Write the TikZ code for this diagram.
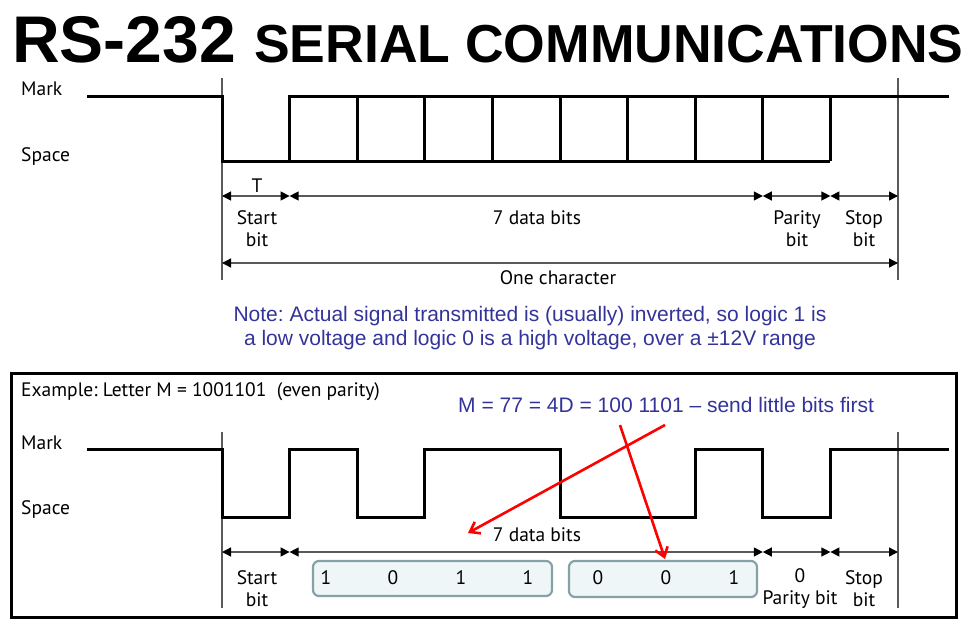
\documentclass[tikz,border=0pt]{standalone}
\usepackage{fontspec}
\setmainfont{PT Sans}
\newfontfamily\arial[Ligatures=TeX]{Liberation Sans}
\usetikzlibrary{arrows.meta}
\definecolor{notecol}{HTML}{333399}
\definecolor{bitfill}{HTML}{EEF6F8}
\definecolor{bitline}{HTML}{86A2A6}
\frenchspacing
\tikzset{
  wave/.style={line width=3pt},
  guide/.style={line width=1.3pt, black!65},
  dim/.style={guide, {Triangle[length=9pt,width=9pt,black]}-{Triangle[length=9pt,width=9pt,black]}},
  lbl/.style={font=\fontsize{19.5}{22}\selectfont, align=center, inner sep=0pt},
  note/.style={font=\arial\fontsize{21}{24}\selectfont, text=notecol, inner sep=0pt},
  bitbox/.style={draw=bitline, fill=bitfill, line width=2.2pt, rounded corners=6pt},
  pointer/.style={red, line width=2.6pt, -{Straight Barb[length=9pt,width=13pt]}}
}
\begin{document}
\begin{tikzpicture}[x=1pt,y=-1pt]
\useasboundingbox (0,0) rectangle (969,632);

\node[anchor=base west, inner sep=0pt, font=\arial\bfseries\fontsize{66}{66}\selectfont] (rs) at (12,62) {RS-232};
\node[anchor=base west, inner sep=0pt, font=\arial\bfseries\fontsize{53.5}{54}\selectfont] (serial) at (254,62) {SERIAL COMMUNICATIONS};

% upper timing diagram
\node[lbl, anchor=west] (mark1) at (21,89) {Mark};
\node[lbl, anchor=west] (space1) at (21,157) {Space};
\draw[guide] (222,78) -- (222,280);
\draw[guide] (898,78) -- (898,280);
\draw[wave] (87,96) -- (222,96) -- (222,161) -- (830.4,161);
\draw[wave] (289.6,161) -- (289.6,96) -- (949,96);
\foreach \i in {2,...,9}
  \draw[wave] ({222+67.6*\i},96) -- ({222+67.6*\i},161);

\foreach \i in {0,...,10} {
  \coordinate (u\i) at ({222+67.6*\i},196);
  \coordinate (l\i) at ({222+67.6*\i},552);
}
\coordinate (c0) at (222,263);
\coordinate (c10) at (898,263);
\draw[dim] (u0) -- (u1);
\draw[dim] (u1) -- (u8);
\draw[dim] (u8) -- (u9);
\draw[dim] (u9) -- (u10);
\draw[dim] (c0) -- (c10);

\node[lbl] (tlbl) at (257,186) {T};
\node[lbl] (start1) at (257,229) {Start\\bit};
\node[lbl] (data1) at (537,218) {7 data bits};
\node[lbl] (parity1) at (797,229) {Parity\\bit};
\node[lbl] (stop1) at (864,229) {Stop\\bit};
\node[lbl] (char1) at (558,278) {One character};

\node[note] (note1) at (530,316) {Note: Actual signal transmitted is (usually) inverted, so logic 1 is};
\node[note] (note2) at (530,340) {a low voltage and logic 0 is a high voltage, over a \textpm12V range};

% example frame
\draw[line width=3pt] (11,373) rectangle (956,617);
\node[lbl, anchor=west] (example) at (21,392) {Example: Letter M = 1001101 \ (even parity)};
\node[note, anchor=west] (mnote) at (458,405) {M = 77 = 4D = 100 1101 \textendash{} send little bits first};

\node[lbl, anchor=west] (mark2) at (21,443) {Mark};
\node[lbl, anchor=west] (space2) at (21,510) {Space};
\draw[guide] (222,432) -- (222,608);
\draw[guide] (898,432) -- (898,608);
\draw[wave] (87,449) -- (222,449) -- (222,517) -- (289.6,517) -- (289.6,449)
  -- (357.2,449) -- (357.2,517) -- (424.8,517) -- (424.8,449) -- (560,449)
  -- (560,517) -- (695.2,517) -- (695.2,449) -- (762.8,449) -- (762.8,517)
  -- (830.4,517) -- (830.4,449) -- (949,449);

\draw[dim] (l0) -- (l1);
\draw[dim] (l1) -- (l8);
\draw[dim] (l8) -- (l9);
\draw[dim] (l9) -- (l10);
\node[lbl] (data2) at (537,535) {7 data bits};

\node[bitbox, minimum width=239pt, minimum height=35pt] (grpa) at (432.5,578.5) {};
\node[bitbox, minimum width=188pt, minimum height=36pt] (grpb) at (663,579) {};
\foreach \x/\v [count=\n] in {326/1,393/0,461/1,528/1,598/0,666/0,734/1}
  \node[lbl] (bit\n) at (\x,578) {\v};

\node[lbl] (start2) at (257,589) {Start\\bit};
\node[lbl] (parity2) at (800,589) {0\\Parity bit};
\node[lbl] (stop2) at (864,589) {Stop\\bit};

\coordinate (pa) at (665,425);
\coordinate (pb) at (620,425);
\coordinate (qa) at (468,533);
\coordinate (qb) at (665,559);
\draw[pointer] (pa) -- (qa);
\draw[pointer] (pb) -- (qb);
\end{tikzpicture}
\end{document}
